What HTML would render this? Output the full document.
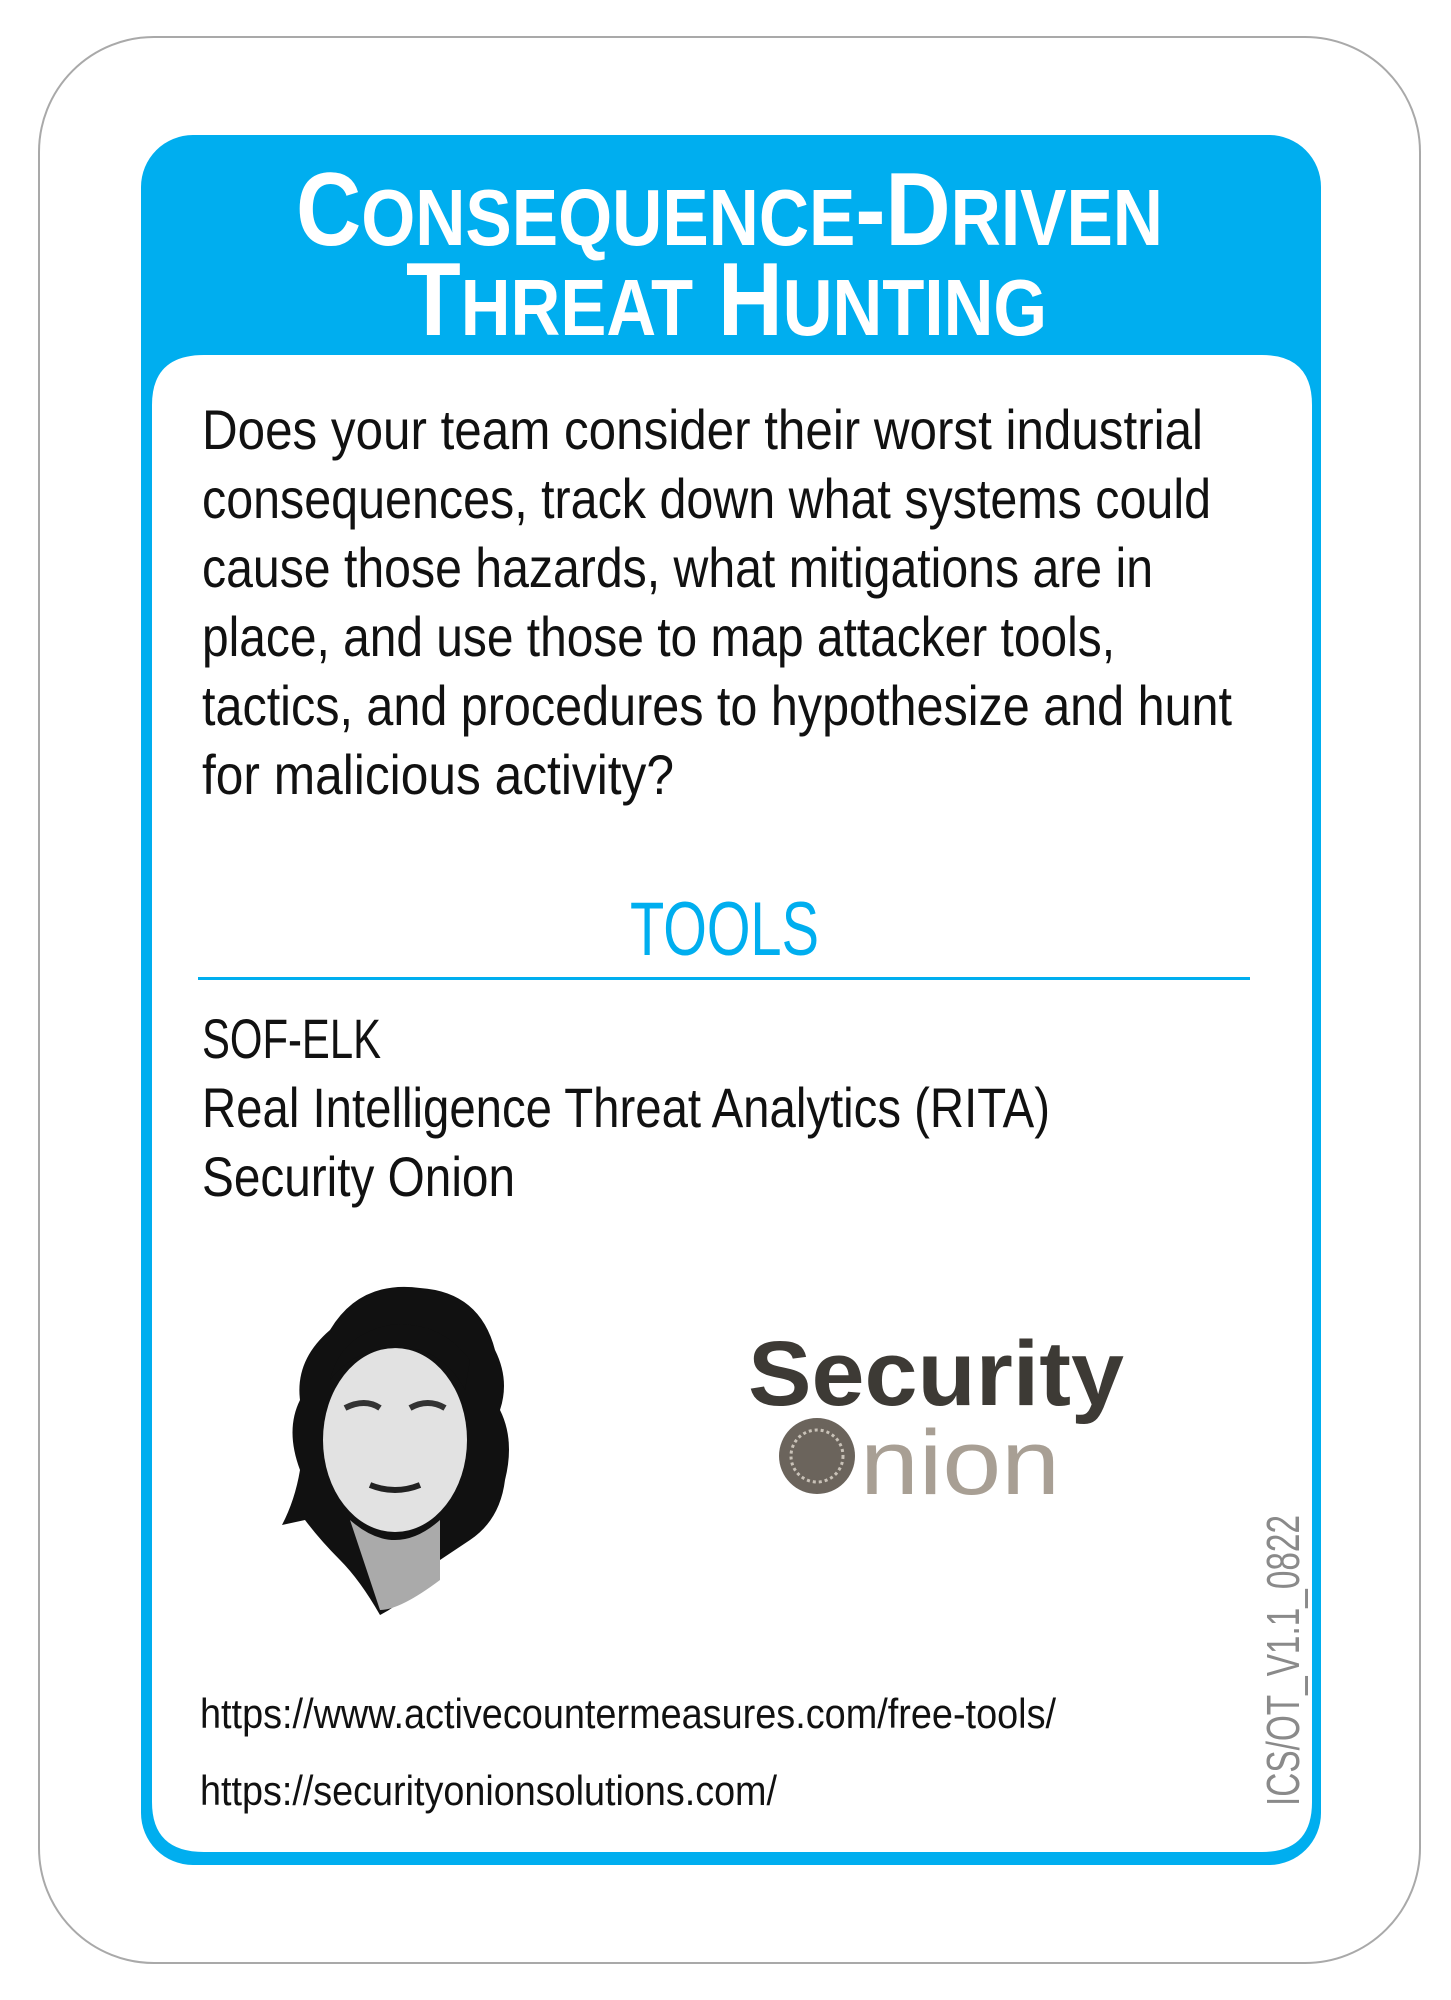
<!DOCTYPE html>
<html><head><meta charset="utf-8"><style>
html,body{margin:0;padding:0;background:#fff;}
svg{display:block;}
text{font-family:"Liberation Sans",sans-serif;}
</style></head><body>
<svg width="1451" height="2000" viewBox="0 0 1451 2000">
  <rect x="39" y="37" width="1381" height="1926" rx="115" ry="115" fill="#fff" stroke="#a9a9a9" stroke-width="2"/>
  <rect x="141" y="135" width="1180" height="1730" rx="52" ry="52" fill="#00aeef"/>
  <path d="M204 355 H1262 Q1312 355 1312 405 V1802 Q1312 1852 1262 1852 H204 Q152 1852 152 1802 V405 Q152 355 204 355 Z" fill="#fff"/>

  <g fill="#fff" font-weight="bold">
    <text x="296" y="245" font-size="104" textLength="867" lengthAdjust="spacingAndGlyphs">C<tspan font-size="80">ONSEQUENCE</tspan>-D<tspan font-size="80">RIVEN</tspan></text>
    <text x="406" y="335" font-size="104" textLength="641" lengthAdjust="spacingAndGlyphs">T<tspan font-size="80">HREAT</tspan> H<tspan font-size="80">UNTING</tspan></text>
  </g>

  <g fill="#111" font-size="56">
    <text x="202" y="449" textLength="1001" lengthAdjust="spacingAndGlyphs">Does your team consider their worst industrial</text>
    <text x="202" y="518" textLength="1009" lengthAdjust="spacingAndGlyphs">consequences, track down what systems could</text>
    <text x="202" y="587" textLength="951" lengthAdjust="spacingAndGlyphs">cause those hazards, what mitigations are in</text>
    <text x="202" y="656" textLength="913" lengthAdjust="spacingAndGlyphs">place, and use those to map attacker tools,</text>
    <text x="202" y="725" textLength="1030" lengthAdjust="spacingAndGlyphs">tactics, and procedures to hypothesize and hunt</text>
    <text x="202" y="794" textLength="472" lengthAdjust="spacingAndGlyphs">for malicious activity?</text>
  </g>

  <text x="630" y="955" font-size="76" fill="#00aeef" textLength="189" lengthAdjust="spacingAndGlyphs">TOOLS</text>
  <rect x="198" y="977" width="1052" height="3" fill="#00aeef"/>

  <g fill="#111" font-size="56">
    <text x="202" y="1058" textLength="179" lengthAdjust="spacingAndGlyphs">SOF-ELK</text>
    <text x="202" y="1127" textLength="848" lengthAdjust="spacingAndGlyphs">Real Intelligence Threat Analytics (RITA)</text>
    <text x="202" y="1196" textLength="313" lengthAdjust="spacingAndGlyphs">Security Onion</text>
  </g>

  <g>
    <path d="M330 1330 Q360 1280 420 1288 Q480 1292 495 1350 Q510 1380 500 1410 Q515 1440 505 1480 Q500 1520 470 1540 L440 1560 Q410 1600 380 1615 Q360 1580 340 1560 Q320 1540 305 1520 L282 1525 Q295 1500 300 1470 Q285 1430 300 1400 Q295 1360 330 1330 Z" fill="#111"/>
    <ellipse cx="395" cy="1440" rx="72" ry="92" fill="#e2e2e2"/>
    <path d="M330 1380 Q360 1340 420 1350 Q450 1360 465 1390 L470 1360 Q440 1320 390 1325 Q340 1335 330 1380 Z" fill="#111"/>
    <path d="M345 1408 Q365 1398 380 1408" stroke="#333" stroke-width="6" fill="none"/>
    <path d="M410 1408 Q428 1398 445 1408" stroke="#333" stroke-width="6" fill="none"/>
    <path d="M370 1485 Q395 1495 420 1485" stroke="#222" stroke-width="6" fill="none"/>
    <path d="M350 1520 Q395 1560 440 1520 L440 1580 Q400 1610 380 1610 Z" fill="#aaa"/>
  </g>

  <g>
    <text x="748" y="1405" font-size="92" font-weight="bold" fill="#3d3a35" textLength="376" lengthAdjust="spacingAndGlyphs">Security</text>
    <circle cx="817" cy="1456" r="38" fill="#6b645c"/>
    <circle cx="817" cy="1456" r="26" fill="none" stroke="#c9c2b8" stroke-width="3" stroke-dasharray="3 3"/>
    <text x="860" y="1494" font-size="92" fill="#a89f94" textLength="200" lengthAdjust="spacingAndGlyphs">nion</text>
  </g>

  <g fill="#111" font-size="42">
    <text x="200" y="1728" textLength="856" lengthAdjust="spacingAndGlyphs">https://www.activecountermeasures.com/free-tools/</text>
    <text x="200" y="1805" textLength="577" lengthAdjust="spacingAndGlyphs">https://securityonionsolutions.com/</text>
  </g>

  <text transform="translate(1299,1806) rotate(-90)" font-size="46" fill="#8a8a8a" textLength="291" lengthAdjust="spacingAndGlyphs">ICS/OT_V1.1_0822</text>
</svg>
</body></html>
